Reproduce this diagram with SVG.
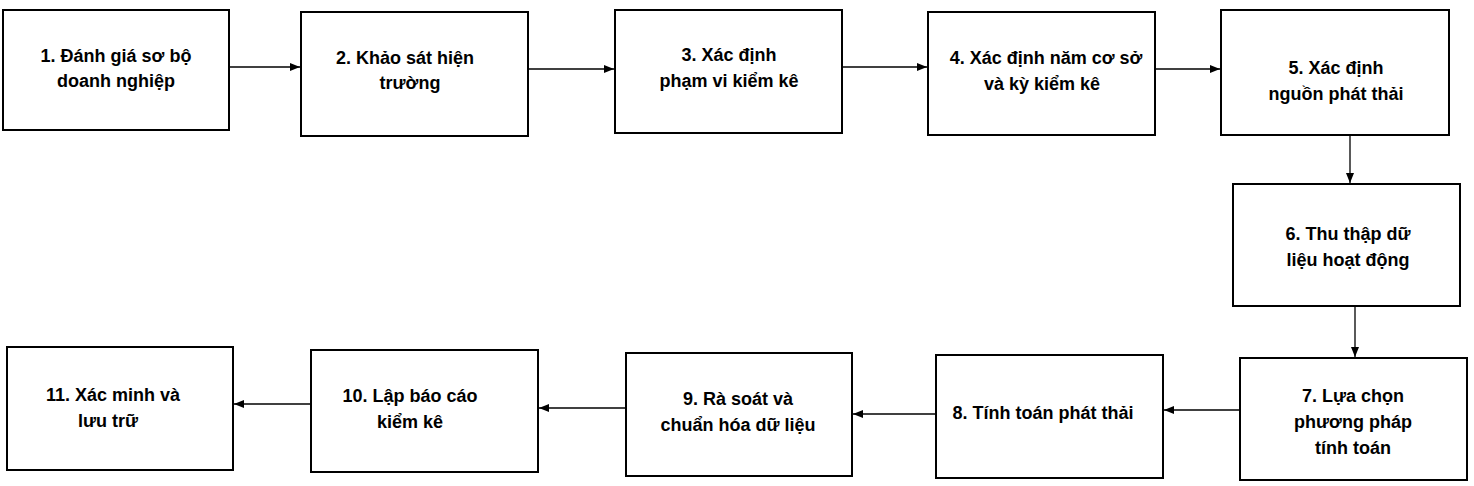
<svg xmlns="http://www.w3.org/2000/svg" width="1474" height="486" viewBox="0 0 1474 486">
<defs>
<marker id="ah" viewBox="0 0 10 10" refX="10" refY="5" markerWidth="8" markerHeight="8" orient="auto"><path d="M0,1 L10,5 L0,9 z" fill="#000"/></marker>
<style>
rect{fill:#fff;stroke:#000;stroke-width:2}
text{font-family:"Liberation Sans",Arial,sans-serif;font-weight:bold;font-size:18px;fill:#000;text-anchor:middle}
.c line{stroke:#000;stroke-width:1.3;marker-end:url(#ah)}
</style>
</defs>
<rect x="0" y="0" width="1474" height="486" style="stroke:none"/>
<g id="n1"><rect x="3" y="10" width="226" height="120"/><text x="116" y="62">1. Đánh giá sơ bộ</text><text x="116" y="87">doanh nghiệp</text></g>
<g id="n2"><rect x="301" y="12" width="227" height="124"/><text x="405" y="64">2. Khảo sát hiện</text><text x="410" y="89">trường</text></g>
<g id="n3"><rect x="615" y="10" width="227" height="123"/><text x="729" y="61">3. Xác định</text><text x="729" y="87">phạm vi kiểm kê</text></g>
<g id="n4"><rect x="928" y="12" width="227" height="123"/><text x="1046" y="64">4. Xác định năm cơ sở</text><text x="1042" y="90">và kỳ kiểm kê</text></g>
<g id="n5"><rect x="1221" y="10" width="228" height="125"/><text x="1336" y="74">5. Xác định</text><text x="1336" y="100">nguồn phát thải</text></g>
<g id="n6"><rect x="1233" y="184" width="227" height="122"/><text x="1348" y="240">6. Thu thập dữ</text><text x="1348" y="266">liệu hoạt động</text></g>
<g id="n7"><rect x="1240" y="358" width="227" height="122"/><text x="1353" y="402">7. Lựa chọn</text><text x="1353" y="428">phương pháp</text><text x="1353" y="454">tính toán</text></g>
<g id="n8"><rect x="936" y="355" width="227" height="123"/><text x="1043" y="419">8. Tính toán phát thải</text></g>
<g id="n9"><rect x="626" y="353" width="226" height="123"/><text x="738" y="405">9. Rà soát và</text><text x="738" y="431">chuẩn hóa dữ liệu</text></g>
<g id="n10"><rect x="311" y="350" width="227" height="122"/><text x="410" y="402">10. Lập báo cáo</text><text x="410" y="428">kiểm kê</text></g>
<g id="n11"><rect x="7" y="347" width="226" height="123"/><text x="113" y="401">11. Xác minh và</text><text x="108" y="427">lưu trữ</text></g>
<g class="c" id="connectors">
<line x1="229" y1="67" x2="300" y2="67"/>
<line x1="528" y1="69" x2="614" y2="69"/>
<line x1="842" y1="67" x2="927" y2="67"/>
<line x1="1155" y1="69" x2="1220" y2="69"/>
<line x1="1350" y1="135" x2="1350" y2="183"/>
<line x1="1355" y1="306" x2="1355" y2="357"/>
<line x1="1240" y1="410" x2="1164" y2="410"/>
<line x1="936" y1="414" x2="853" y2="414"/>
<line x1="626" y1="408" x2="539" y2="408"/>
<line x1="311" y1="404" x2="234" y2="404"/>
</g>
</svg>
